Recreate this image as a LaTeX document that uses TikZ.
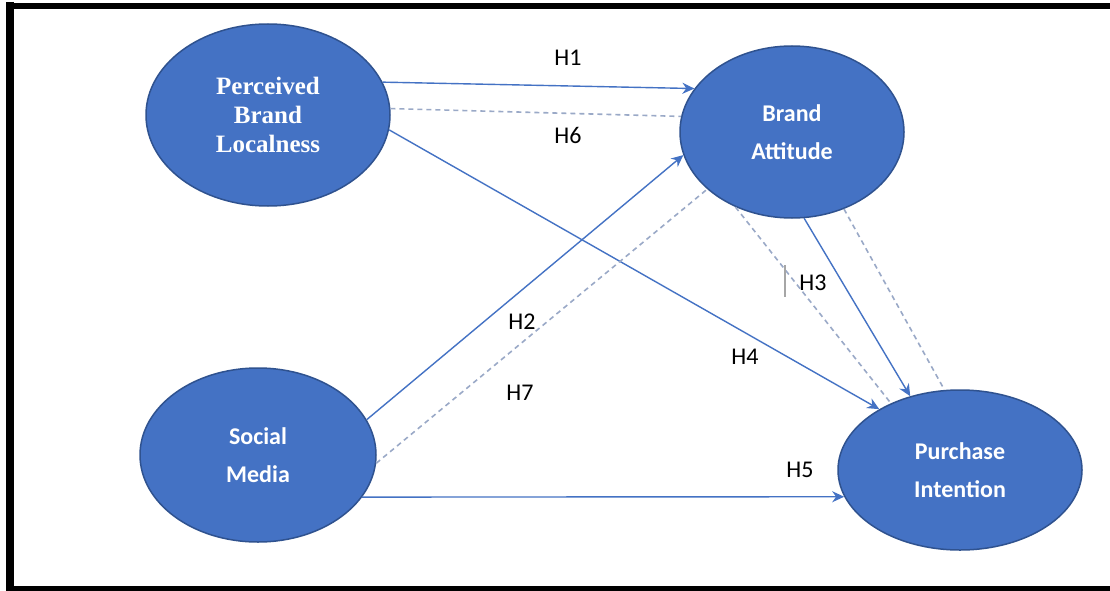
\documentclass[tikz,border=0pt]{standalone}
\usepackage{fontspec}
\setmainfont{Carlito}
\newfontfamily\serifbold{Liberation Serif}
\usetikzlibrary{shapes.geometric,arrows.meta}
\definecolor{nodeblue}{HTML}{4472C4}
\definecolor{edgeblue}{HTML}{2F528F}
\definecolor{linkblue}{HTML}{4472C4}
\definecolor{dashblue}{HTML}{9AA9C7}
\begin{document}
\begin{tikzpicture}[x=1pt,y=-1pt,
  construct/.style={ellipse,draw=edgeblue,line width=1.5pt,fill=nodeblue,inner sep=0pt,
    text=white,align=center,font=\fontsize{24}{38}\selectfont\bfseries},
  solidlink/.style={draw=linkblue,line width=1.4pt,-{Stealth[length=12pt,width=11pt]}},
  dashlink/.style={draw=dashblue,line width=1.6pt,dash pattern=on 5pt off 4pt},
  hlabel/.style={font=\fontsize{24}{28}\selectfont,text=black,inner sep=0pt}]
\useasboundingbox (0,0) rectangle (1110,591);
\fill[white] (0,0) rectangle (1110,591);
\draw[line width=6pt] (10,6) -- (1120,6);
\draw[line width=8pt] (10,2) -- (10,589);
\draw[line width=6pt] (6,589) -- (1120,589);

\node[construct,minimum width=244pt,minimum height=182pt,
  font=\fontsize{25}{29}\selectfont\serifbold\bfseries] (pbl) at (268,115) {Perceived\\Brand\\Localness};
\node[construct,minimum width=224pt,minimum height=172pt] (ba) at (792,132) {Brand\\Attitude};
\node[construct,minimum width=236pt,minimum height=174pt] (sm) at (258,455) {Social\\Media};
\node[construct,minimum width=244pt,minimum height=160pt] (pi) at (960,470) {Purchase\\Intention};

% H1
\draw[solidlink] (pbl.16.3) -- (ba.156.7);
% H6
\draw[dashlink] (pbl.3.8) -- (ba.172);
% H4
\draw[solidlink] (pbl.-7.6) -- (pi.143.3);
% H2
\draw[solidlink] (sm.18.9) -- (ba.192);
% H7
\draw[dashlink] (sm.-4.7) -- (ba.214.6);
% H3
\draw[solidlink] (ba.278.6) -- (pi.124.3);
\draw[dashlink] (ba.233) -- (pi.136.8);
\draw[dashlink] (ba.-56) -- (pi.101.9);
% H5
\draw[solidlink] (sm.-22.1) -- (pi.193.2);

\coordinate (marktop) at (785,265);
\coordinate (markbot) at (785,297);
\draw[draw=gray!70,line width=2pt] (marktop) -- (markbot);

\node[hlabel] (h1) at (568,58) {H1};
\node[hlabel] (h6) at (568,135) {H6};
\node[hlabel] (h2) at (522,322) {H2};
\node[hlabel] (h7) at (520,393) {H7};
\node[hlabel] (h3) at (813,283) {H3};
\node[hlabel] (h4) at (745,357) {H4};
\node[hlabel] (h5) at (800,470) {H5};
\end{tikzpicture}
\end{document}
